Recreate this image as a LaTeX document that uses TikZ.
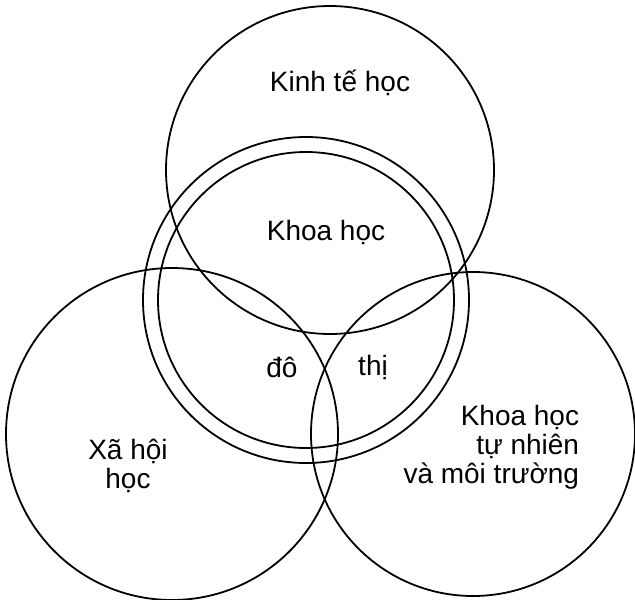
\documentclass[tikz,border=0pt]{standalone}
\usepackage{fontspec}
\setmainfont{Liberation Sans}
\usepackage{tikz}

\begin{document}
\begin{tikzpicture}[x=1pt, y=-1pt, line width=1.8pt, inner sep=0pt,
    font=\fontsize{28}{29}\selectfont]
  \useasboundingbox (0,0) rectangle (635,600);
  % three fields
  \draw (330,170) circle[radius=164pt];
  \draw (172,434) circle[radius=166pt];
  \draw (473,434) circle[radius=162pt];
  % urban science: double ring
  \foreach \r in {148,163}
    \draw (306,300) circle[radius=\r pt];
  \node (kinhte) at (340,83) {Kinh tế học};
  \node (khoahoc) at (326,232) {Khoa học};
  \node (do) at (282,367) {đô};
  \node (thi) at (373,367) {thị};
  \node[align=center] (xahoi) at (128,466) {Xã hội\\học};
  \node[align=right, anchor=east] (tunhien) at (580,447) {Khoa học\\tự nhiên\\và môi trường};
\end{tikzpicture}
\end{document}
